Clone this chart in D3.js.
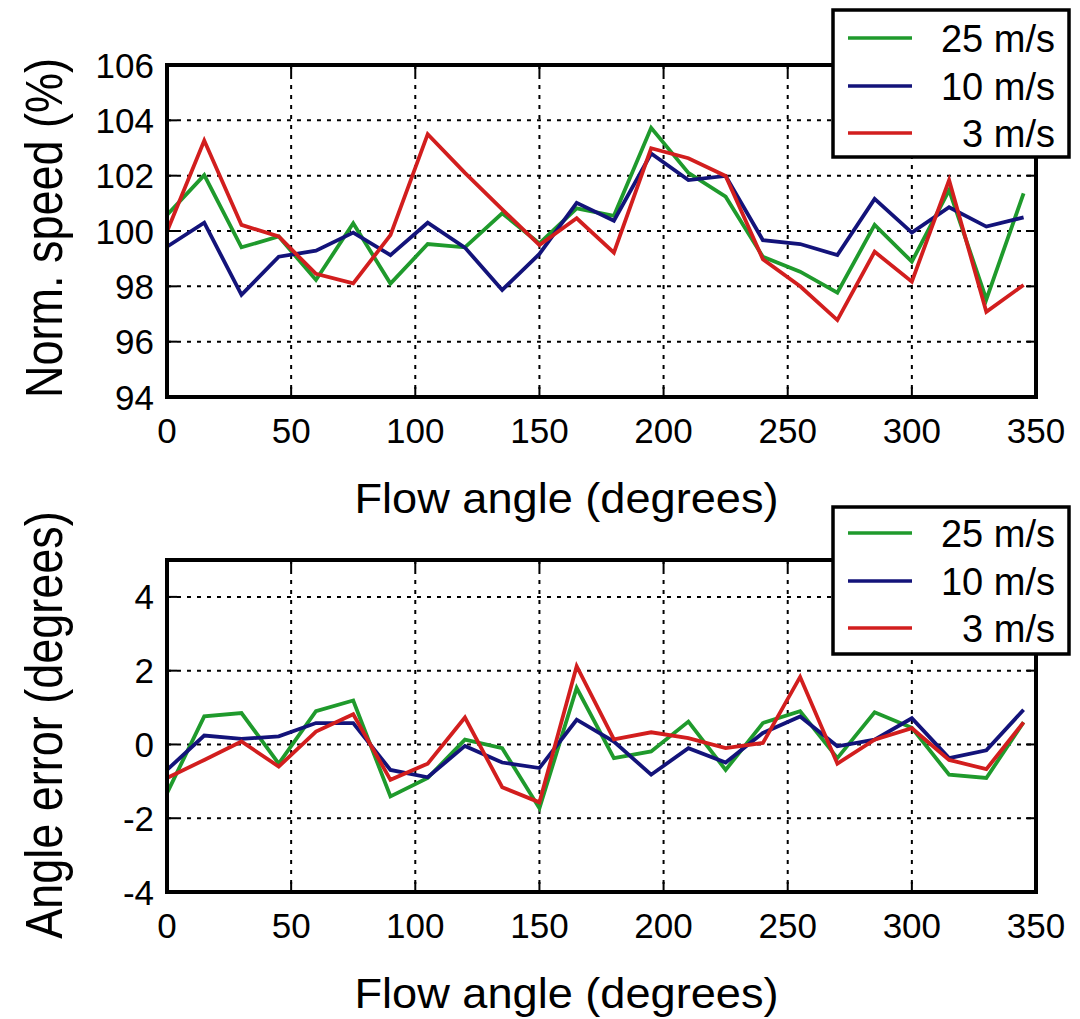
<!DOCTYPE html>
<html>
<head>
<meta charset="utf-8">
<script src="https://cdn.jsdelivr.net/npm/d3@7"></script>
<style>
html,body{margin:0;padding:0;background:#fff;}
svg{display:block;}
text{font-family:"Liberation Sans",Arial,Helvetica,sans-serif;fill:#000;}
</style>
</head>
<body>
<svg id="chart" width="1080" height="1019"></svg>
<script>
// ---------- data ----------
const angles = [0,15,30,45,60,75,90,105,120,135,150,165,180,195,210,225,240,255,270,285,300,315,330,345];
const seriesNames = ["25 m/s","10 m/s","3 m/s"];
const seriesColors = ["#1f9a2c","#13137a","#d21e1e"];

const speed25 = [100.58,102.02,99.41,99.8,98.23,100.28,98.1,99.53,99.41,100.64,99.55,100.82,100.55,103.73,102.1,101.24,99.07,98.53,97.77,100.22,98.89,101.48,97.53,101.36];
const speed10 = [99.43,100.3,97.69,99.07,99.29,99.94,99.13,100.3,99.4,97.87,99.17,101.02,100.37,102.8,101.84,101.99,99.67,99.53,99.13,101.16,99.94,100.86,100.16,100.49];
const speed3  = [99.98,103.27,100.22,99.8,98.45,98.11,99.85,103.5,102.1,100.78,99.49,100.46,99.22,102.99,102.63,101.99,98.98,98.0,96.78,99.25,98.17,101.84,97.08,98.05];

const err25 = [-1.32,0.76,0.85,-0.52,0.9,1.19,-1.41,-0.91,0.13,-0.1,-1.73,1.53,-0.37,-0.19,0.62,-0.69,0.58,0.9,-0.37,0.87,0.45,-0.82,-0.91,0.6];
const err10 = [-0.69,0.24,0.15,0.22,0.58,0.58,-0.69,-0.89,-0.04,-0.49,-0.64,0.67,0.08,-0.82,-0.1,-0.49,0.31,0.76,-0.05,0.13,0.71,-0.37,-0.16,0.94];
const err3  = [-0.91,-0.42,0.08,-0.6,0.35,0.82,-0.96,-0.52,0.73,-1.16,-1.57,2.12,0.14,0.33,0.17,-0.1,0.04,1.83,-0.52,0.13,0.44,-0.42,-0.67,0.6];

const xTicks = [0,50,100,150,200,250,300,350];
const speedTicks = [94,96,98,100,102,104,106];
const errTicks = [-4,-2,0,2,4];

const xTitle = "Flow angle (degrees)";
const speedTitle = "Norm. speed (%)";
const errTitle = "Angle error (degrees)";

// ---------- drawing ----------
const svg = d3.select("#chart");
const X0 = 167, X1 = 1036;

function panel(cfg){
  const g = svg.append("g");
  const x = d3.scaleLinear().domain([0,350]).range([X0,X1]);
  const y = d3.scaleLinear().domain(cfg.domain).range([cfg.bottom,cfg.top]);

  // grid
  const grid = g.append("g").attr("stroke","#000").attr("stroke-width",2).attr("stroke-dasharray","4,6");
  grid.selectAll("line.v").data(xTicks.slice(1,-1)).join("line")
    .attr("x1",d=>x(d)).attr("x2",d=>x(d)).attr("y1",cfg.top).attr("y2",cfg.bottom);
  grid.selectAll("line.h").data(cfg.ticks.filter(t=>t>cfg.domain[0]&&t<cfg.domain[1])).join("line")
    .attr("x1",X0).attr("x2",X1).attr("y1",d=>y(d)).attr("y2",d=>y(d));

  // series
  const line = d3.line().x((d,i)=>x(angles[i])).y(d=>y(d));
  cfg.series.forEach((s,k)=>{
    g.append("path").datum(s).attr("d",line).attr("fill","none")
      .attr("stroke",seriesColors[k]).attr("stroke-width",3.8).attr("stroke-linejoin","miter");
  });

  // ticks (inward, all sides)
  const tk = g.append("g").attr("stroke","#000").attr("stroke-width",2);
  xTicks.forEach(t=>{
    tk.append("line").attr("x1",x(t)).attr("x2",x(t)).attr("y1",cfg.bottom).attr("y2",cfg.bottom-10);
    tk.append("line").attr("x1",x(t)).attr("x2",x(t)).attr("y1",cfg.top).attr("y2",cfg.top+10);
  });
  cfg.ticks.forEach(t=>{
    tk.append("line").attr("x1",X0).attr("x2",X0+10).attr("y1",y(t)).attr("y2",y(t));
    tk.append("line").attr("x1",X1).attr("x2",X1-10).attr("y1",y(t)).attr("y2",y(t));
  });

  // frame
  g.append("rect").attr("x",X0).attr("y",cfg.top).attr("width",X1-X0).attr("height",cfg.bottom-cfg.top)
    .attr("fill","none").attr("stroke","#000").attr("stroke-width",4);

  // x tick labels
  xTicks.forEach(t=>{
    g.append("text").attr("transform",`translate(${x(t)},${cfg.bottom+46})`)
      .attr("text-anchor","middle").attr("font-size",35).text(t);
  });
  // y tick labels
  cfg.ticks.forEach(t=>{
    g.append("text").attr("transform",`translate(154,${y(t)})`)
      .attr("text-anchor","end").attr("dy","0.36em").attr("font-size",35).text(t);
  });
  // x title
  g.append("text").attr("transform",`translate(${(X0+X1)/2-35},${cfg.bottom+116}) scale(1.05,1)`)
    .attr("text-anchor","middle").attr("font-size",43).text(xTitle);
  // y title
  g.append("text").attr("transform",`translate(43,${cfg.yTitleCenter}) scale(1.15,1) rotate(-90)`)
    .attr("text-anchor","middle").attr("dy","0.36em").attr("font-size",45).text(cfg.yTitle);

  // legend
  const L = cfg.legend;
  g.append("rect").attr("x",833).attr("y",L.top).attr("width",236).attr("height",147)
    .attr("fill","#fff").attr("stroke","#000").attr("stroke-width",3.5);
  seriesNames.forEach((n,k)=>{
    const yy = L.rows[k];
    g.append("line").attr("x1",848).attr("x2",912).attr("y1",yy).attr("y2",yy)
      .attr("stroke",seriesColors[k]).attr("stroke-width",3.5);
    g.append("text").attr("x",1055).attr("y",yy).attr("dy","0.36em")
      .attr("text-anchor","end").attr("font-size",38).text(n);
  });
}

panel({top:65,bottom:397,domain:[94,106],ticks:speedTicks,series:[speed25,speed10,speed3],
  yTitle:speedTitle,yTitleCenter:228,legend:{top:10,rows:[38,86,133]}});
panel({top:560,bottom:892,domain:[-4,5],ticks:errTicks,series:[err25,err10,err3],
  yTitle:errTitle,yTitleCenter:725,legend:{top:507,rows:[533,581,628]}});
</script>
</body>
</html>
